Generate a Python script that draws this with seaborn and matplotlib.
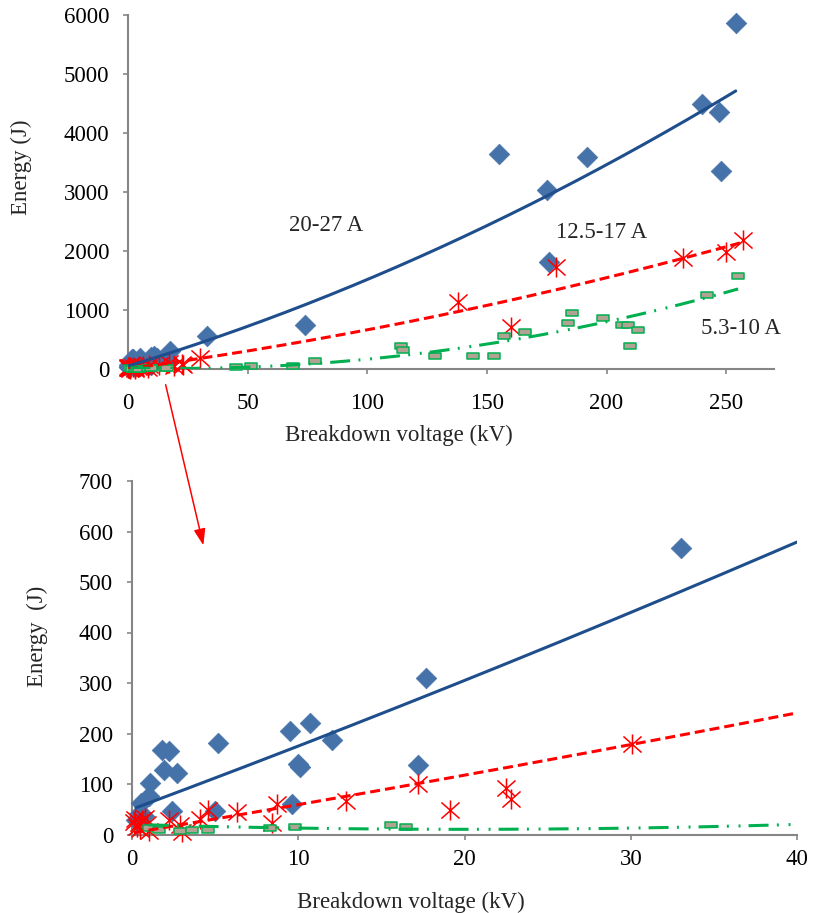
import matplotlib
matplotlib.use("Agg")
import numpy as np
import pandas as pd
import matplotlib.pyplot as plt
from matplotlib.path import Path
from matplotlib.patches import FancyArrowPatch
import seaborn as sns

# ---- measured breakdown voltage (kV) and arc energy (J) per current band ----
high_kv = [0.24, 0.4, 0.55, 0.7, 1.0, 1.1, 1.8, 1.9, 2.2, 2.4, 2.7, 5.0, 5.2,
           9.5, 9.6, 10.0, 10.1, 10.7, 12.0, 17.2, 17.7, 33.0, 74.0, 155.0,
           175.0, 176.0, 192.0, 240.0, 247.0, 248.0, 254.0]
high_energy = [28, 40, 62, 36, 76, 102, 168, 128, 165, 47, 122, 47, 182,
               205, 60, 140, 133, 221, 188, 138, 310, 567, 746, 3650,
               3030, 1810, 3590, 4500, 4350, 3350, 5870]

mid_kv = [0.1, 0.2, 0.3, 0.4, 0.5, 0.6, 0.8, 0.9, 1.0, 2.2, 2.9, 3.0, 4.1,
          4.6, 6.3, 8.4, 8.7, 12.9, 17.2, 19.1, 22.5, 22.8, 30.1, 138.0,
          160.0, 179.0, 232.0, 250.0, 257.0]
mid_energy = [25, 30, 15, 22, 10, 28, 33, 20, 6, 29, 19, 4, 30,
              49, 44, 23, 61, 66, 100, 48, 92, 70, 180, 1140,
              710, 1730, 1880, 1990, 2190]

low_kv = [1.0, 1.6, 2.9, 3.6, 4.6, 8.3, 9.8, 15.6, 16.5, 45.0, 51.5, 69.0,
          78.0, 114.0, 115.0, 128.5, 144.0, 153.0, 157.0, 166.0, 184.0,
          185.5, 198.4, 206.5, 209.0, 210.0, 213.0, 242.0, 255.0]
low_energy = [12, 8, 6, 8, 8, 13, 14, 18, 15, 35, 57, 57,
              130, 395, 330, 228, 218, 222, 562, 627, 788,
              950, 856, 743, 753, 395, 663, 1255, 1568]

# second-order polynomial trendlines: [constant, linear, quadratic]
high_trend = [50.0, 12.27, 0.02396]
mid_trend = [3.0, 5.5, 0.0111]
low_trend = [20.0, -0.975, 0.02438]

band_labels = ["20-27 A", "12.5-17 A", "5.3-10 A"]

top_xticks = [0, 50, 100, 150, 200, 250]
top_yticks = [0, 1000, 2000, 3000, 4000, 5000, 6000]
bottom_xticks = [0, 10, 20, 30, 40]
bottom_yticks = [0, 100, 200, 300, 400, 500, 600, 700]

x_title = "Breakdown voltage (kV)"

# ---- styling ----
sns.set_theme(style="white")
plt.rcParams["font.family"] = ["Liberation Serif", "DejaVu Serif"]
plt.rcParams["lines.scale_dashes"] = False

FS = 16.5
AXIS_GREY = "#868686"
BLUE_MARK = "#4672AA"
BLUE_LINE = "#1F4E8C"
RED = "#FF0000"
GREEN = "#00B050"
BOX_FILL = "#B0A394"

STAR = Path([(0, -1), (0, 1), (-0.9, -0.8), (0.9, 0.8), (-0.9, 0.8), (0.9, -0.8)],
            [Path.MOVETO, Path.LINETO, Path.MOVETO, Path.LINETO,
             Path.MOVETO, Path.LINETO])
BAR = Path([(-1, -0.42), (1, -0.42), (1, 0.42), (-1, 0.42), (-1, -0.42)],
           [Path.MOVETO, Path.LINETO, Path.LINETO, Path.LINETO, Path.CLOSEPOLY])

W, H = 813, 913
fig = plt.figure(figsize=(W / 100, H / 100), dpi=100)


def px_box(left, top, right, bottom):
    return [left / W, 1 - bottom / H, (right - left) / W, (bottom - top) / H]


ax_top = fig.add_axes(px_box(128, 15, 774, 369))
ax_bot = fig.add_axes(px_box(132, 481, 797, 834.5))

series = [
    dict(kv=high_kv, e=high_energy, coef=high_trend, marker="D", s=110,
         color=BLUE_MARK, edge=BLUE_MARK, lw=0.5, line=BLUE_LINE, ls="-"),
    dict(kv=mid_kv, e=mid_energy, coef=mid_trend, marker=STAR, s=210,
         color=RED, edge=RED, lw=1.1, line=RED, ls=(0, (7.2, 3.6))),
    dict(kv=low_kv, e=low_energy, coef=low_trend, marker=BAR, s=74,
         color=BOX_FILL, edge=GREEN, lw=1.1, line=GREEN,
         ls=(0, (14.4, 6.0, 1.4, 7.0, 1.4, 5.8))),
]


def draw_panel(ax, xmax, ymax):
    for z, sr in enumerate(series):
        df = pd.DataFrame({"kv": sr["kv"], "energy": sr["e"]})
        df = df[(df.kv <= xmax) & (df.energy <= ymax)]
        sns.scatterplot(data=df, x="kv", y="energy", ax=ax, marker=sr["marker"],
                        s=sr["s"], color=sr["color"], edgecolor=sr["edge"],
                        linewidth=sr["lw"], clip_on=False, zorder=3 + z * 0.1)
    for z, sr in enumerate(series):
        lo, hi = min(sr["kv"]), min(max(sr["kv"]), xmax)
        v = np.linspace(lo, hi, 300)
        c = sr["coef"]
        fit = c[0] + c[1] * v + c[2] * v ** 2
        sns.lineplot(x=v, y=fit, ax=ax, color=sr["line"], linewidth=2.2,
                     linestyle=sr["ls"], sort=False, zorder=4 + z * 0.1)

    ax.set_xlim(0, xmax)
    ax.set_ylim(0, ymax)
    for side in ("top", "right"):
        ax.spines[side].set_visible(False)
    for side in ("left", "bottom"):
        ax.spines[side].set_color(AXIS_GREY)
        ax.spines[side].set_linewidth(1.5)
    ax.tick_params(axis="both", which="major", direction="out", length=3.6,
                   width=1.2, color=AXIS_GREY, labelsize=FS, labelcolor="black",
                   bottom=True, left=True)
    ax.tick_params(axis="y", pad=10)
    ax.grid(False)


draw_panel(ax_top, 270, 6000)
ax_top.set_xticks(top_xticks)
ax_top.set_yticks(top_yticks)
ax_top.tick_params(axis="x", pad=13.5)
ax_top.set_xlabel(x_title, fontsize=FS)
ax_top.set_ylabel("Energy (J)", fontsize=FS)
ax_top.xaxis.set_label_coords(0.42, -0.158)
ax_top.yaxis.set_label_coords(-0.149, 0.571)

ax_top.text(82.8, 2424, band_labels[0], fontsize=FS, ha="center", va="center")
ax_top.text(198, 2322, band_labels[1], fontsize=FS, ha="center", va="center")
ax_top.text(256.3, 678, band_labels[2], fontsize=FS, ha="center", va="center")

draw_panel(ax_bot, 40, 700)
ax_bot.set_xticks(bottom_xticks)
ax_bot.set_yticks(bottom_yticks)
ax_bot.tick_params(axis="x", pad=7)
ax_bot.set_xlabel(x_title, fontsize=FS)
ax_bot.set_ylabel("Energy  (J)", fontsize=FS)
ax_bot.xaxis.set_label_coords(0.42, -0.163)
ax_bot.yaxis.set_label_coords(-0.126, 0.5615)

# pointer from the low-voltage corner of the full range to the zoomed panel
arrow = FancyArrowPatch((165 / W, 1 - 382 / H), (204 / W, 1 - 548 / H),
                        transform=fig.transFigure,
                        arrowstyle="-|>,head_length=0.45,head_width=0.16",
                        mutation_scale=22, color=RED, lw=1.1)
fig.add_artist(arrow)

fig.savefig("out.png", dpi=100)
